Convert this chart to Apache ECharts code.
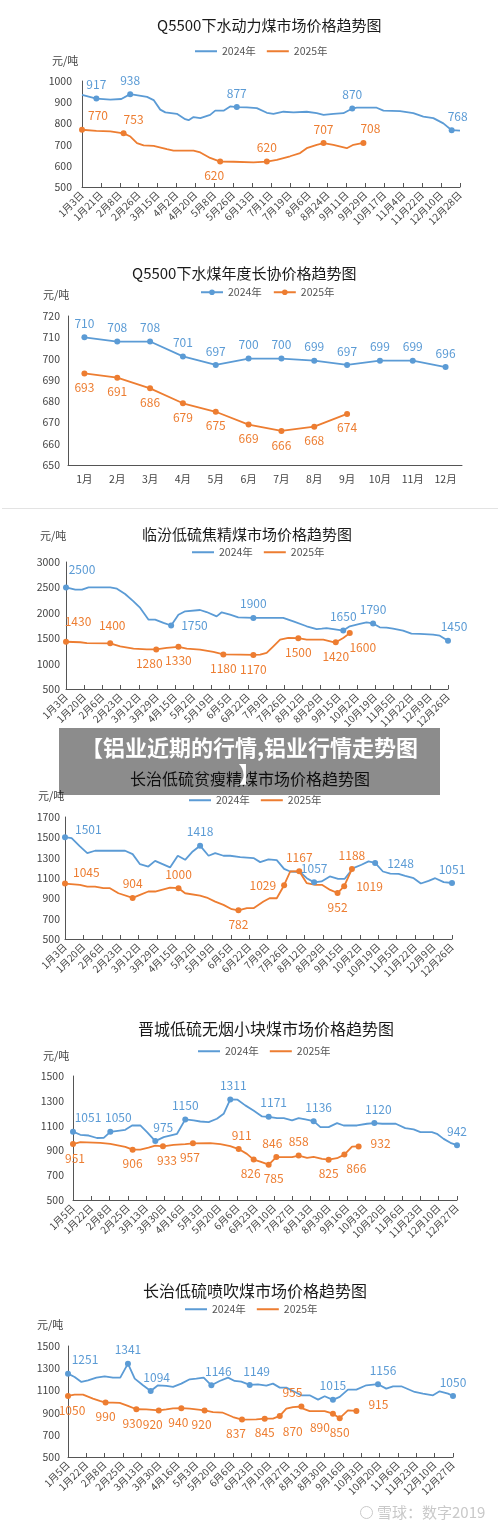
<!DOCTYPE html>
<html>
<head>
<meta charset="utf-8">
<script src="https://cdn.jsdelivr.net/npm/echarts@6/dist/echarts.min.js"></script>
<style>
  body { margin:0; background:#fff; }
  #page { position:relative; width:500px; height:1525px; overflow:hidden; background:#fff; }
  .chart { position:absolute; left:0; width:500px; }
  #sep { position:absolute; left:2px; top:508px; width:496px; height:1px; background:#e3e3e3; }
  #banner { position:absolute; left:59px; top:728px; width:381px; height:67px; background:rgba(0,0,0,0.45);
            color:#fff; font-family:"Noto Sans CJK SC",sans-serif; font-weight:bold; font-size:22px;
            line-height:26px; text-align:center; padding-top:5px; box-sizing:border-box; z-index:10;
            white-space:nowrap; }
  #mark { position:absolute; left:360px; top:1501px; color:#c9c9c9; font-family:"Noto Sans CJK SC",sans-serif;
          font-size:15px; white-space:nowrap; z-index:10; }
  #mark i { display:inline-block; width:11px; height:11px; border:1.5px solid #c9c9c9; border-radius:50%;
            vertical-align:-1px; margin-right:4px; }
</style>
</head>
<body>
<div id="page">
  <div class="chart" id="c1" style="top:0px;height:250px"></div>
  <div class="chart" id="c2" style="top:250px;height:250px"></div>
  <div id="sep"></div>
  <div class="chart" id="c3" style="top:505px;height:245px"></div>
  <div class="chart" id="c4" style="top:725px;height:260px"></div>
  <div class="chart" id="c5" style="top:985px;height:275px"></div>
  <div class="chart" id="c6" style="top:1260px;height:265px"></div>
  <div id="banner">【铝业近期的行情,铝业行情走势图<br>】</div>
  <div id="mark"><i></i>雪球：数字2019</div>
</div>
<script>
// ---------- data ----------
// x = position in tick-label units (0 = first tick label)
var c1Ticks = ['1月3日','1月21日','2月8日','2月26日','3月15日','4月2日','4月20日','5月8日','5月26日','6月13日','7月1日','7月19日','8月6日','8月24日','9月11日','9月29日','10月17日','11月4日','11月22日','12月10日','12月28日'];
var c1Blue = [[0,934],[0.76,917],[1.5,912],[2.08,915],[2.55,938],[3.44,925],[3.79,910],[4.14,865],[4.41,852],[5.02,845],[5.46,820],[5.64,815],[5.9,830],[6.26,825],[6.78,840],[7.05,860],[7.49,860],[7.84,880],[8.19,877],[8.72,876],[9.25,872],[9.78,850],[10.13,845],[10.66,855],[11.19,852],[11.89,855],[12.42,848],[12.78,840],[13.3,845],[13.83,848],[14.3,870],[14.54,874],[15.59,874],[15.95,860],[16.83,858],[17.53,848],[18.06,832],[18.59,825],[19.12,800],[19.56,768],[20,766]];
var c1BlueMarks = [0.76, 2.55, 8.19, 14.3, 19.56];
var c1Orange = [[0,770],[0.76,765],[1.5,762],[2.2,753],[2.56,738],[2.91,707],[3.26,696],[3.79,694],[4.49,679],[4.84,672],[5.9,672],[6.26,663],[6.78,637],[7.31,620],[8.02,619],[9.07,616],[9.78,620],[10.31,628],[11.01,645],[11.54,660],[11.89,683],[12.42,699],[12.78,707],[13.3,699],[14.01,683],[14.36,699],[14.89,708]];
var c1OrangeMarks = [0, 2.2, 7.31, 9.78, 12.78, 14.89];

var c2Months = ['1月','2月','3月','4月','5月','6月','7月','8月','9月','10月','11月','12月'];
var c2Blue = [710,708,708,701,697,700,700,699,697,699,699,696];
var c2Orange = [693,691,686,679,675,669,666,668,674];

var c3Ticks = ['1月3日','1月20日','2月6日','2月23日','3月12日','3月29日','4月15日','5月2日','5月19日','6月5日','6月22日','7月9日','7月26日','8月12日','8月29日','9月15日','10月2日','10月19日','11月5日','11月22日','12月9日','12月26日'];
var c3Blue = [[0,2500],[0.51,2455],[0.88,2455],[1.24,2500],[2.43,2500],[2.8,2475],[3.25,2370],[3.71,2225],[4.08,2095],[4.54,1865],[4.9,1865],[5.36,1800],[5.78,1750],[6.18,1963],[6.55,2030],[7.37,2055],[7.73,2015],[8.28,1930],[8.56,2010],[9.02,1963],[9.47,1910],[10.3,1900],[11.94,1900],[12.5,1830],[13.23,1735],[13.78,1680],[14.06,1690],[14.32,1700],[14.7,1680],[15.24,1650],[15.6,1735],[16.15,1780],[16.52,1810],[16.88,1790],[17.25,1715],[17.62,1710],[17.98,1690],[18.53,1650],[18.99,1590],[19.45,1585],[20.18,1570],[20.55,1550],[21,1450]];
var c3BlueMarks = [0, 5.78, 10.3, 15.24, 16.88, 21];
var c3Orange = [[0,1430],[0.79,1420],[1.15,1405],[2.43,1400],[2.98,1340],[3.71,1295],[4.44,1280],[4.96,1280],[5.54,1310],[6.18,1330],[6.64,1295],[7.37,1275],[8.1,1230],[8.65,1180],[9.57,1175],[10.3,1170],[10.67,1175],[11.03,1210],[11.4,1340],[11.77,1470],[12.22,1505],[12.77,1500],[13.23,1470],[14.14,1470],[14.69,1425],[14.83,1420],[15.24,1505],[15.6,1600]];
var c3OrangeMarks = [0, 2.43, 4.96, 6.18, 8.65, 10.3, 12.77, 14.83, 15.6];

var c4Ticks = ['1月3日','1月20日','2月6日','2月23日','3月12日','3月29日','4月15日','5月2日','5月19日','6月5日','6月22日','7月9日','7月26日','8月12日','8月29日','9月15日','10月2日','10月19日','11月5日','11月22日','12月9日','12月26日'];
var c4Blue = [[0,1501],[0.36,1493],[0.81,1411],[1.21,1345],[1.63,1368],[3.26,1368],[3.67,1335],[4.07,1236],[4.52,1213],[4.89,1269],[5.7,1204],[6.12,1319],[6.52,1279],[6.93,1361],[7.33,1418],[7.79,1319],[8.15,1345],[8.6,1319],[8.96,1319],[9.51,1306],[10.23,1296],[10.59,1256],[11.04,1283],[11.49,1276],[11.89,1190],[12.22,1164],[12.76,1158],[13.12,1098],[13.52,1057],[13.92,1066],[14.37,1115],[14.82,1092],[15.18,1092],[15.64,1197],[16.09,1230],[16.47,1263],[16.83,1248],[17.25,1164],[17.65,1144],[18.1,1141],[18.46,1121],[18.92,1098],[19.31,1046],[19.73,1072],[20.09,1098],[20.55,1059],[21,1051]];
var c4BlueMarks = [0, 7.33, 13.52, 16.83, 21];
var c4Orange = [[0,1045],[0.81,1033],[1.21,1016],[1.63,1016],[2.08,1000],[2.44,1000],[2.9,950],[3.67,904],[4.07,934],[4.52,967],[4.89,967],[5.7,1006],[6.16,1000],[6.52,950],[7.33,927],[7.69,908],[8.15,868],[8.6,836],[9.05,793],[9.41,782],[9.87,803],[10.23,803],[10.77,868],[11.1,901],[11.49,901],[11.89,1029],[12.22,1164],[12.71,1167],[13.12,1049],[13.58,1033],[13.94,1033],[14.39,983],[14.79,952],[15.15,1019],[15.57,1188]];
var c4OrangeMarks = [0, 3.67, 6.16, 9.41, 11.89, 12.71, 14.79, 15.15, 15.57];

var c5Ticks = ['1月5日','1月22日','2月8日','2月25日','3月13日','3月30日','4月16日','5月3日','5月20日','6月6日','6月23日','7月10日','7月27日','8月13日','8月30日','9月16日','10月3日','10月20日','11月6日','11月23日','12月10日','12月27日'];
var c5Blue = [[0,1051],[0.4,1026],[0.86,1020],[1.31,1000],[1.68,1001],[2.04,1050],[2.86,1066],[3.23,1101],[3.68,1101],[4.05,1047],[4.5,975],[4.96,1007],[5.69,1034],[6.14,1150],[6.6,1142],[6.96,1133],[7.42,1128],[7.87,1155],[8.24,1195],[8.6,1311],[9,1309],[9.42,1263],[9.87,1222],[10.34,1174],[10.7,1171],[11.16,1160],[11.53,1160],[11.98,1142],[12.34,1160],[12.71,1150],[13.16,1136],[13.53,1088],[13.98,1088],[14.44,1120],[14.8,1101],[15.53,1101],[16.08,1115],[16.48,1120],[16.91,1115],[17.65,1115],[18.17,1080],[18.63,1069],[19,1047],[19.63,1047],[19.9,1034],[20.27,993],[20.64,961],[21,942]];
var c5BlueMarks = [0, 2.04, 4.5, 6.14, 8.6, 10.7, 13.16, 16.48, 21];
var c5Orange = [[0,951],[0.4,966],[1.49,961],[2.04,953],[2.86,929],[3.26,906],[3.68,907],[4.13,923],[4.5,939],[4.92,933],[5.5,945],[6.14,950],[6.56,957],[7.51,958],[8.06,950],[8.6,934],[9.06,911],[9.51,872],[9.88,826],[10.24,810],[10.7,785],[11.12,846],[11.52,846],[11.98,846],[12.34,858],[12.8,840],[13.16,848],[13.62,832],[13.98,825],[14.44,837],[14.84,866],[15.26,931],[15.62,932]];
var c5OrangeMarks = [0, 3.26, 4.92, 6.56, 9.06, 9.88, 10.7, 11.12, 12.34, 13.98, 14.84, 15.62];

var c6Ticks = ['1月5日','1月22日','2月8日','2月25日','3月13日','3月30日','4月16日','5月3日','5月20日','6月6日','6月23日','7月10日','7月27日','8月13日','8月30日','9月16日','10月3日','10月20日','11月6日','11月23日','12月10日','12月27日'];
var c6Blue = [[0,1251],[0.36,1221],[0.73,1176],[1.09,1191],[1.55,1215],[2,1227],[2.45,1215],[2.85,1215],[3.27,1341],[3.64,1206],[4.09,1146],[4.51,1094],[4.91,1146],[5.36,1140],[5.73,1131],[6.18,1161],[6.64,1200],[7,1206],[7.4,1215],[7.82,1146],[8.27,1185],[8.73,1215],[9.09,1185],[9.45,1179],[9.91,1149],[10.36,1155],[10.82,1143],[11.18,1161],[11.55,1125],[11.91,1125],[12.27,1095],[12.73,1056],[13.18,1056],[13.64,1017],[14,1047],[14.45,1015],[14.82,1041],[15.27,1107],[15.73,1107],[16.27,1146],[16.91,1156],[17.36,1116],[17.73,1137],[18.18,1137],[18.91,1086],[19.36,1071],[19.91,1056],[20.27,1092],[20.73,1071],[21,1050]];
var c6BlueMarks = [0, 3.27, 4.51, 7.82, 9.91, 14.45, 16.91, 21];
var c6Orange = [[0,1050],[0.36,1062],[0.82,1062],[1.36,1026],[1.73,1005],[2.05,990],[2.45,990],[2.82,987],[3.27,960],[3.73,930],[4.27,929],[4.95,920],[5.36,929],[5.73,938],[6.18,940],[6.64,935],[7.45,920],[7.91,905],[8.45,899],[9,860],[9.49,837],[10.27,839],[10.73,845],[11.18,845],[11.55,870],[11.91,935],[12.27,950],[12.73,955],[12.82,935],[13.18,914],[14,914],[14.45,890],[14.82,850],[15.27,920],[15.73,915]];
var c6OrangeMarks = [0, 2.05, 3.73, 4.95, 6.18, 7.45, 9.49, 10.73, 11.55, 12.73, 14.45, 14.82, 15.73];

// ---------- styling / layout ----------
var FONT = '"Noto Sans CJK SC","Noto Sans",sans-serif';
var BLUE = '#5b9bd5', ORANGE = '#ed7d31', AXIS = '#555';

// label placement for marked points: [position, dx, dy]
var c1BlueLbl = [['top',0,0],['top',0,0],['top',0,0],['top',0,0],['top',6,0]];
var c1OrangeLbl = [['top',16,0],['top',10,0],['bottom',-6,0],['top',0,0],['top',0,0],['top',7,0]];
var c3BlueLbl = [['top',16,-4],['right',2,0],['top',0,0],['top',0,0],['top',0,0],['top',6,0]];
var c3OrangeLbl = [['top',12,-6],['top',2,-4],['bottom',-7,0],['bottom',0,0],['bottom',0,0],['bottom',0,0],['bottom',0,0],['bottom',0,0],['bottom',13,0]];
var c4BlueLbl = [['right',2,-8],['top',0,0],['top',0,0],['right',4,0],['top',0,0]];
var c4OrangeLbl = [['right',0,-11],['top',0,0],['top',0,0],['bottom',0,0],['left',0,0],['top',0,0],['bottom',0,0],['right',4,0],['top',0,0]];
var c5BlueLbl = [['top',15,0],['top',8,0],['top',8,0],['top',0,0],['top',3,0],['top',5,0],['top',5,0],['top',4,0],['top',0,0]];
var c5OrangeLbl = [['bottom',2,0],['bottom',0,0],['bottom',4,0],['bottom',-3,0],['top',3,0],['bottom',-3,0],['bottom',5,0],['top',-4,0],['top',0,0],['bottom',0,0],['bottom',12,0],['right',4,-3]];
var c6BlueLbl = [['top',17,0],['top',0,0],['top',6,0],['top',7,0],['top',7,0],['top',0,0],['top',5,0],['top',0,0]];
var c6OrangeLbl = [['bottom',4,0],['bottom',0,0],['bottom',-4,0],['bottom',-6,0],['bottom',-3,0],['bottom',-3,0],['bottom',-6,0],['bottom',0,0],['bottom',13,2],['top',-9,0],['bottom',-13,0],['bottom',0,0],['right',4,-6]];

function lineSeries(name, color, pts, marks, place) {
  return {
    name: name, type: 'line', symbol: 'circle', symbolSize: 6,
    lineStyle: { width: 1.8, color: color }, itemStyle: { color: color },
    label: { show: false, color: color, fontSize: 12, distance: 5, formatter: function (p) { return p.value[1]; } },
    emphasis: { disabled: true },
    data: pts.map(function (p) {
      var k = marks.indexOf(p[0]);
      if (k < 0) return { value: p, symbol: 'none' };
      var pl = place[k];
      return { value: p, label: { show: true, position: pl[0], offset: [pl[1], pl[2]] } };
    })
  };
}

function common(L) {
  return {
    animation: false,
    textStyle: { fontFamily: FONT },
    title: { text: L.title, left: L.titleLeft, top: L.titleTop, padding: 0,
             textStyle: { fontSize: L.titleSize, fontWeight: 'normal', color: '#1a1a1a', fontFamily: FONT } },
    legend: { left: L.legendLeft, top: L.legendTop, padding: 0, itemGap: 11, itemWidth: 22,
              itemHeight: L.legendIcon ? 7 : 2, icon: L.legendIcon ? undefined : 'rect',
              textStyle: { fontSize: 10.5, color: '#555', fontFamily: FONT } },
    graphic: [{ type: 'text', left: L.unitLeft, top: L.unitTop,
                style: { text: '元/吨', fontSize: 11, fill: '#444', fontFamily: FONT } }],
    grid: L.grid,
    yAxis: { type: 'value', min: L.yMin, max: L.yMax, interval: L.yStep,
             splitLine: { show: false }, axisTick: { show: false },
             axisLine: { show: true, lineStyle: { color: AXIS } },
             axisLabel: { fontSize: 10.5, color: '#444', margin: L.yMargin,
                          formatter: function (v) { return String(v); } } }
  };
}

function dailyChart(id, L, ticks, blue, blueMarks, blueLbl, orange, orangeMarks, orangeLbl) {
  var opt = common(L);
  opt.xAxis = { type: 'value', min: 0, max: ticks.length - 1, interval: 1,
                splitLine: { show: false },
                axisLine: { lineStyle: { color: AXIS } },
                axisTick: { inside: true, length: 4, lineStyle: { color: AXIS } },
                axisLabel: { rotate: 45, fontSize: 10, color: '#444', margin: 6,
                             formatter: function (v) { return ticks[v] || ''; } } };
  opt.series = [lineSeries('2024年', BLUE, blue, blueMarks, blueLbl),
                lineSeries('2025年', ORANGE, orange, orangeMarks, orangeLbl)];
  echarts.init(document.getElementById(id), null, { renderer: 'canvas' }).setOption(opt);
}

dailyChart('c1', { title: 'Q5500下水动力煤市场价格趋势图', titleSize: 15, titleLeft: 157, titleTop: 18,
  legendLeft: 195, legendTop: 46, unitLeft: 52, unitTop: 55,
  grid: { left: 82, right: 40, top: 81, height: 106 }, yMin: 500, yMax: 1000, yStep: 100, yMargin: 10 },
  c1Ticks, c1Blue, c1BlueMarks, c1BlueLbl, c1Orange, c1OrangeMarks, c1OrangeLbl);

// chart 2: monthly contract price, category axis
(function () {
  var L = { title: 'Q5500下水煤年度长协价格趋势图', titleSize: 15, titleLeft: 132, titleTop: 16,
    legendLeft: 200, legendTop: 37, legendIcon: true, unitLeft: 43, unitTop: 39,
    grid: { left: 68, right: 38, top: 66, height: 149 }, yMin: 650, yMax: 720, yStep: 10, yMargin: 8 };
  var opt = common(L);
  opt.xAxis = { type: 'category', data: c2Months, boundaryGap: true,
                axisLine: { lineStyle: { color: AXIS } },
                axisTick: { inside: true, length: 4, lineStyle: { color: AXIS } },
                axisLabel: { fontSize: 10.5, color: '#444', margin: 9 } };
  function s(name, color, vals, pos) {
    return { name: name, type: 'line', data: vals, symbol: 'circle', symbolSize: 6,
             lineStyle: { width: 1.8, color: color }, itemStyle: { color: color },
             emphasis: { disabled: true },
             label: { show: true, position: pos, distance: 5, color: color, fontSize: 12 } };
  }
  opt.series = [s('2024年', BLUE, c2Blue, 'top'), s('2025年', ORANGE, c2Orange, 'bottom')];
  echarts.init(document.getElementById('c2')).setOption(opt);
})();

dailyChart('c3', { title: '临汾低硫焦精煤市场价格趋势图', titleSize: 15, titleLeft: 142, titleTop: 22,
  legendLeft: 192, legendTop: 42, unitLeft: 40, unitTop: 25,
  grid: { left: 66, right: 52, top: 57, height: 127 }, yMin: 500, yMax: 3000, yStep: 500, yMargin: 6 },
  c3Ticks, c3Blue, c3BlueMarks, c3BlueLbl, c3Orange, c3OrangeMarks, c3OrangeLbl);

dailyChart('c4', { title: '长治低硫贫瘦精煤市场价格趋势图', titleSize: 16, titleLeft: 130, titleTop: 46,
  legendLeft: 189, legendTop: 70, unitLeft: 38, unitTop: 65,
  grid: { left: 65, right: 48, top: 92, height: 122 }, yMin: 500, yMax: 1700, yStep: 200, yMargin: 5 },
  c4Ticks, c4Blue, c4BlueMarks, c4BlueLbl, c4Orange, c4OrangeMarks, c4OrangeLbl);

dailyChart('c5', { title: '晋城低硫无烟小块煤市场价格趋势图', titleSize: 16, titleLeft: 138, titleTop: 36,
  legendLeft: 198, legendTop: 61, unitLeft: 43, unitTop: 65,
  grid: { left: 73, right: 43, top: 91, height: 124 }, yMin: 500, yMax: 1500, yStep: 200, yMargin: 9 },
  c5Ticks, c5Blue, c5BlueMarks, c5BlueLbl, c5Orange, c5OrangeMarks, c5OrangeLbl);

dailyChart('c6', { title: '长治低硫喷吹煤市场价格趋势图', titleSize: 16, titleLeft: 143, titleTop: 23,
  legendLeft: 185, legendTop: 44, unitLeft: 37, unitTop: 59,
  grid: { left: 68, right: 47, top: 86, height: 111 }, yMin: 500, yMax: 1500, yStep: 200, yMargin: 8 },
  c6Ticks, c6Blue, c6BlueMarks, c6BlueLbl, c6Orange, c6OrangeMarks, c6OrangeLbl);
</script>
</body>
</html>
